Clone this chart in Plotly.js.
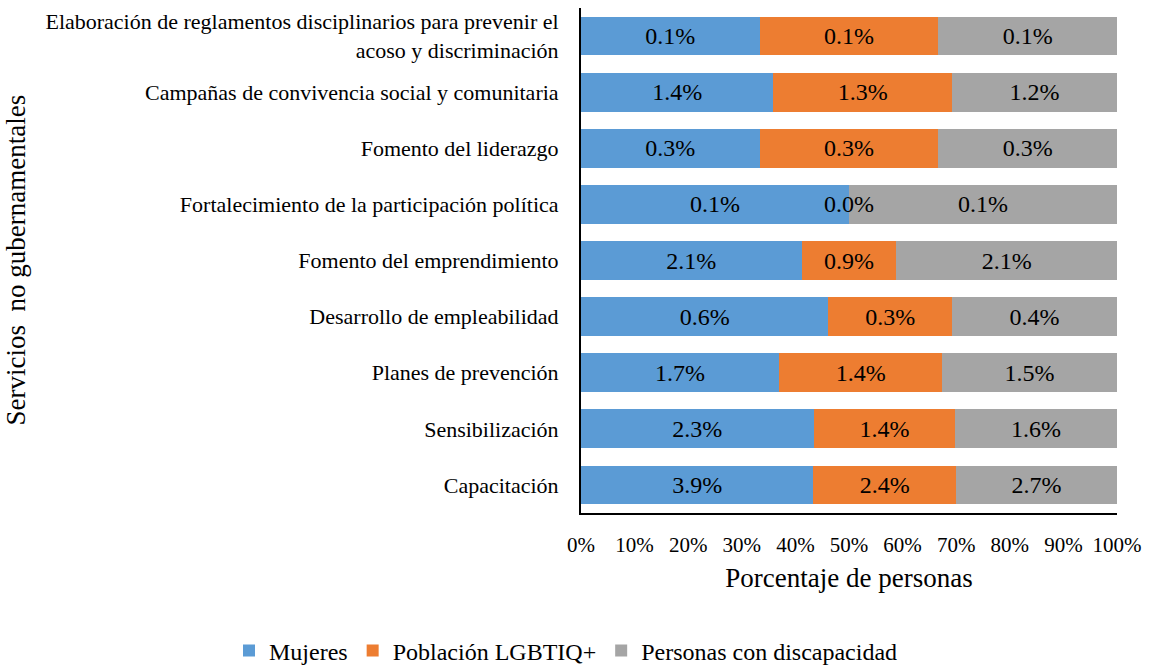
<!DOCTYPE html>
<html><head><meta charset="utf-8">
<script src="https://cdn.plot.ly/plotly-3.0.1.min.js"></script>
<style>body{margin:0;background:#fff}#chart{width:1153px;height:667px}</style>
</head><body><div id="chart"></div>
<script>
const categories = [
  "Capacitación",
  "Sensibilización",
  "Planes de prevención",
  "Desarrollo de empleabilidad",
  "Fomento del emprendimiento",
  "Fortalecimiento de la participación política",
  "Fomento del liderazgo",
  "Campañas de convivencia social y comunitaria",
  "Elaboración de reglamentos disciplinarios para prevenir el<br>acoso y discriminación"
];
const mujeres      = [3.9, 2.3, 1.7, 0.6, 2.1, 0.1, 0.3, 1.4, 0.1];
const lgbtiq       = [2.4, 1.4, 1.4, 0.3, 0.9, 0.0, 0.3, 1.3, 0.1];
const discapacidad = [2.7, 1.6, 1.5, 0.4, 2.1, 0.1, 0.3, 1.2, 0.1];
const seriesNames = ["Mujeres", "Población LGBTIQ+", "Personas con discapacidad"];
const xTicks = [0,10,20,30,40,50,60,70,80,90,100];

const FONT = "Liberation Serif";
const colors = ["#5B9BD5", "#ED7D31", "#A5A5A5"];
const fmt = v => v.toFixed(1) + "%";

const data = [mujeres, lgbtiq, discapacidad].map((vals, i) => ({
  type: "bar", orientation: "h", name: seriesNames[i],
  y: categories, x: vals,
  marker: {color: colors[i]},
  text: vals.map(fmt),
  textposition: vals.map(v => v > 0 ? "inside" : "none"),
  insidetextanchor: "middle",
  textfont: {family: FONT, size: 24, color: "#000"},
  constraintext: "none",
  hoverinfo: "none"
}));

const annotations = [];
lgbtiq.forEach((v, k) => {
  if (v === 0) {
    const tot = mujeres[k] + lgbtiq[k] + discapacidad[k];
    annotations.push({x: 100 * mujeres[k] / tot, y: categories[k], xref: "x", yref: "y",
      text: fmt(v), showarrow: false, font: {family: FONT, size: 24, color: "#000"}});
  }
});
annotations.push({xref: "paper", yref: "paper", x: -566/536, y: 0.5, xanchor: "center", yanchor: "middle",
  text: "Servicios \u00a0no gubernamentales", textangle: -90, showarrow: false,
  font: {family: FONT, size: 27, color: "#000"}});

const layout = {
  width: 1153, height: 667,
  margin: {l: 581, r: 36, t: 8, b: 154, autoexpand: false},
  barmode: "stack", barnorm: "percent", bargap: 0.31,
  paper_bgcolor: "#fff", plot_bgcolor: "#fff",
  font: {family: FONT, color: "#000"},
  showlegend: true,
  legend: {orientation: "h", traceorder: "normal", x: (229 - 581) / 536, xanchor: "left",
    y: (513 - 651) / 505, yanchor: "middle",
    font: {family: FONT, size: 24, color: "#000"}, itemwidth: 30},
  xaxis: {range: [0, 100], tickvals: xTicks, ticktext: xTicks.map(v => v + "%"),
    showgrid: false, zeroline: false, showline: true, linecolor: "#000", linewidth: 2,
    ticks: "", ticklabelstandoff: 12,
    tickfont: {family: FONT, size: 21, color: "#000"},
    title: {text: "Porcentaje de personas", font: {family: FONT, size: 27, color: "#000"}, standoff: 12}},
  yaxis: {showgrid: false, zeroline: false, showline: true, linecolor: "#000", linewidth: 2,
    ticks: "", ticklabelstandoff: 16,
    tickfont: {family: FONT, size: 22, color: "#000"}},
  annotations: annotations
};
Plotly.newPlot("chart", data, layout, {displayModeBar: false, staticPlot: true});
</script></body></html>
